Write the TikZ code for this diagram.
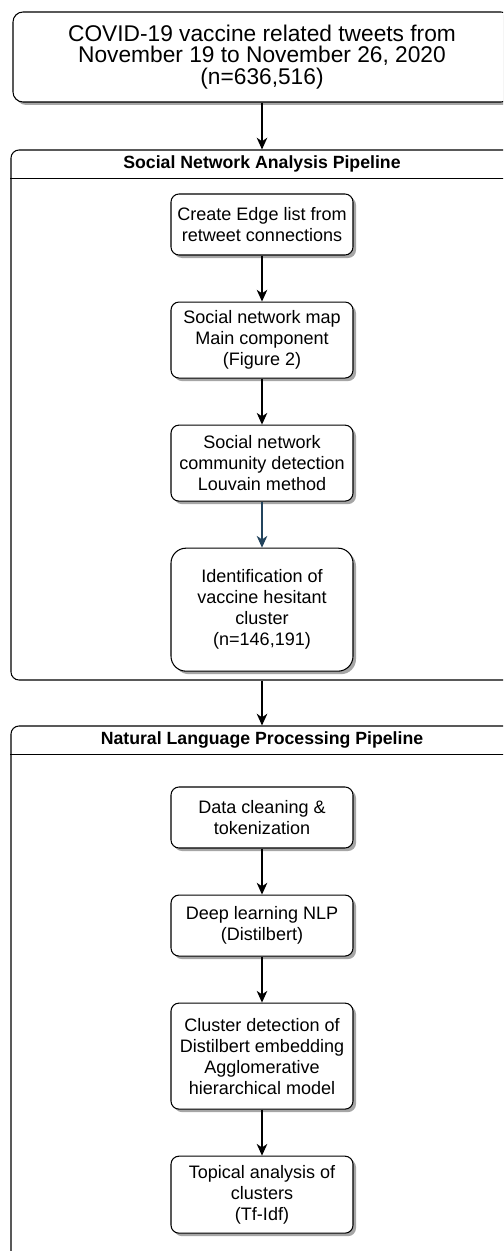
\documentclass[tikz,border=0pt]{standalone}
\usepackage{fontspec}
\setmainfont{Liberation Sans}
\usetikzlibrary{arrows.meta, shapes, shadows, positioning}
\definecolor{blueline}{HTML}{23445D}

\begin{document}
\begin{tikzpicture}[>={Stealth[length=10pt,width=9pt,inset=3pt]},
 node distance=1.38cm, line width=0.9pt,
 task node/.style={draw, fill=white, rounded corners=0.24cm, align=center,
   minimum width=5.46cm, minimum height=1.83cm, inner sep=0pt,
   font=\fontsize{15.4}{17.9}\selectfont,
   drop shadow={shadow xshift=0.09cm, shadow yshift=-0.09cm, fill=black!35, opacity=1}},
 top node/.style={task node, rounded corners=0.3cm, minimum width=14.94cm,
   minimum height=2.7cm, font=\fontsize{19.4}{18.6}\selectfont},
 pipe node/.style={draw, rounded corners=0.24cm, minimum width=15.06cm, inner sep=0pt},
 head node/.style={minimum width=15.06cm, minimum height=0.84cm, inner sep=0pt,
   font=\fontsize{15.1}{17.9}\selectfont\bfseries}]
   \useasboundingbox (0,0) rectangle (15.09,-37.53);
   \clip (0,0) rectangle (15.09,-37.53);

   % source data
   \node[top node] (tweets) at (7.86,-1.71) {COVID-19 vaccine related tweets from\\November 19 to November 26, 2020\\(n=636,516)};

   % social network analysis
   \node[pipe node, minimum height=15.9cm] (sna) at (7.86,-12.45) {};
   \node[head node, below=0pt of sna.north] (snahead) {Social Network Analysis Pipeline};
   \node[task node, below=1.32cm of sna.north] (edges) {Create Edge list from\\retweet connections};
   \node[task node, minimum height=2.28cm] (map) [below=of edges] {Social network map\\Main component\\(Figure 2)};
   \node[task node, minimum height=2.28cm] (louvain) [below=of map] {Social network\\community detection\\Louvain method};
   \node[task node, minimum height=3.69cm, rounded corners=0.45cm] (hesitant) [below=of louvain] {Identification of\\vaccine hesitant\\cluster\\(n=146,191)};

   % natural language processing
   \node[pipe node, minimum height=16.32cm] (nlp) at (7.86,-29.94) {};
   \node[head node, below=0pt of nlp.north] (nlphead) {Natural Language Processing Pipeline};
   \node[task node, below=1.83cm of nlp.north] (cleaning) {Data cleaning \&\\tokenization};
   \node[task node] (bert) [below=of cleaning] {Deep learning NLP\\(Distilbert)};
   \node[task node, minimum height=3.18cm] (agglo) [below=of bert] {Cluster detection of\\Distilbert embedding\\Agglomerative\\hierarchical model};
   \node[task node, minimum height=2.31cm] (tfidf) [below=of agglo] {Topical analysis of\\clusters\\(Tf-Idf)};

   \draw (snahead.south west) -- (snahead.south east);
   \draw (nlphead.south west) -- (nlphead.south east);

  \foreach \s/\t in {tweets/sna, edges/map, map/louvain, sna/nlp, cleaning/bert, bert/agglo, agglo/tfidf} {
   \path[->, line width=1.1pt] (\s) edge (\t);}
  \path[->, line width=1.1pt]
	(louvain) edge [draw=blueline] (hesitant);
\end{tikzpicture}
\end{document}
